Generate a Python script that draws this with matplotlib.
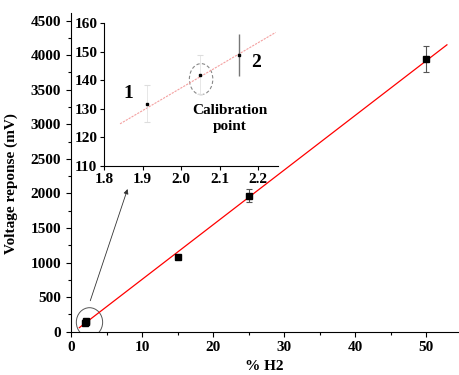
import matplotlib
matplotlib.use("Agg")
import matplotlib.pyplot as plt
from matplotlib.patches import Ellipse
from matplotlib.ticker import MultipleLocator

# main calibration data (% H2 vs voltage response)
h2 = [1.91, 2.05, 2.15, 15, 25, 50]
volt = [132, 142, 149, 1076, 1968, 3940]
volt_err = [7, 7, 8, 20, 95, 190]

# fitted line end points
fit_x = [1.17, 52.9]
fit_y = [58, 4150]

# zoomed inset data
ins_x = [1.91, 2.05, 2.15]
ins_y = [131.8, 142.0, 148.9]
ins_err = [6.6, 6.9, 7.5]
ins_fit_x = [1.841, 2.246]
ins_fit_y = [124.7, 156.8]

plt.rcParams['font.family'] = ['Liberation Serif', 'DejaVu Serif']
plt.rcParams['font.weight'] = 'bold'

fig = plt.figure(figsize=(4.59, 3.75), dpi=100)

# ---- main plot ----
ax = fig.add_axes([0.1547, 0.1155, 0.8453, 0.849])
ax.plot(fit_x, fit_y, color='red', lw=0.9, zorder=2)
ax.errorbar(h2, volt, yerr=volt_err, fmt='s', color='black', ms=4.6,
            ecolor='#555555', elinewidth=0.8, capsize=2.5, capthick=0.8, zorder=3)

ax.set_xlim(0, 54.6)
ax.set_ylim(0, 4606)
ax.xaxis.set_major_locator(MultipleLocator(10))
ax.xaxis.set_minor_locator(MultipleLocator(5))
ax.yaxis.set_major_locator(MultipleLocator(500))
ax.yaxis.set_minor_locator(MultipleLocator(250))
for s in ['top', 'right']:
    ax.spines[s].set_visible(False)
ax.tick_params(which='major', direction='out', length=3.5, width=0.8, labelsize=11)
ax.tick_params(which='minor', direction='out', length=2, width=0.8)
for lab in ax.get_xticklabels() + ax.get_yticklabels():
    lab.set_fontweight('bold')

ax.set_xlabel('% H2', fontsize=11, fontweight='bold')
ax.set_ylabel('Voltage reponse (mV)', fontsize=11, fontweight='bold')
ax.xaxis.set_label_coords(0.497, -0.088)
ax.yaxis.set_label_coords(-0.137, 0.465)

# circle around the low concentration points + arrow to inset
ax.add_patch(Ellipse((2.6, 137), 3.7, 420, fill=False, edgecolor='#555555', lw=0.7))
ax.annotate('', xy=(7.96, 2064), xytext=(2.71, 448),
            arrowprops=dict(arrowstyle='-|>', color='#333333', lw=0.6,
                            mutation_scale=7, shrinkA=0, shrinkB=0))

# ---- inset ----
axi = fig.add_axes([0.2272, 0.5581, 0.3791, 0.3797], facecolor='none')
axi.plot(ins_fit_x, ins_fit_y, color='#f4a0a0', lw=0.8, ls=(0, (2, 1)))
axi.errorbar(ins_x[:2], ins_y[:2], yerr=ins_err[:2], fmt='s', color='black', ms=2,
             ecolor='#dddddd', elinewidth=0.5, capsize=2, capthick=0.8)
axi.errorbar(ins_x[2:], ins_y[2:], yerr=ins_err[2:], fmt='s', color='black', ms=2,
             ecolor='#777777', elinewidth=1.0, capsize=0)
axi.add_patch(Ellipse((2.052, 140.4), 0.061, 10.9, fill=False, edgecolor='#888888',
                      lw=0.8, ls=(0, (3, 2))))

axi.set_xlim(1.8, 2.253)
axi.set_ylim(110, 160)
axi.xaxis.set_major_locator(MultipleLocator(0.1))
axi.yaxis.set_major_locator(MultipleLocator(10))
for s in ['top', 'right']:
    axi.spines[s].set_visible(False)
axi.tick_params(direction='out', length=3, width=0.8, labelsize=11, pad=2)
for lab in axi.get_xticklabels() + axi.get_yticklabels():
    lab.set_fontweight('bold')

axi.text(1.8625, 135.2, '1', fontsize=14, fontweight='bold', ha='center', va='center')
axi.text(2.195, 146.2, '2', fontsize=14, fontweight='bold', ha='center', va='center')
axi.text(2.127, 126.7, 'Calibration\npoint', fontsize=11, fontweight='bold',
         ha='center', va='center', linespacing=1.3)

fig.savefig('out.png', dpi=100)
